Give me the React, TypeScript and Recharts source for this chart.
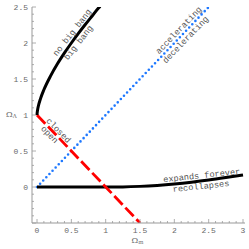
import React from 'react';
import { ComposedChart, Line, XAxis, YAxis, ReferenceDot } from 'recharts';

// Omega_m values and Omega_Lambda values of the "no big bang" boundary
const noBigBangM = [0, 0.001, 0.005, 0.01, 0.02, 0.05, 0.1, 0.2, 0.3, 0.4, 0.5, 0.6, 0.7, 0.8, 0.9, 0.92];
const noBigBangL = [1, 1.017, 1.05, 1.081, 1.125, 1.224, 1.35, 1.547, 1.714, 1.862, 2.0, 2.13, 2.253, 2.372, 2.49, 2.509];

// expands forever / recollapses boundary
const recollapseM = [0, 0.5, 1, 1.25, 1.5, 1.75, 2, 2.25, 2.5, 2.75, 3];
const recollapseL = [0, 0, 0, 0.0015, 0.0087, 0.0224, 0.0419, 0.0669, 0.0965, 0.131, 0.168];

// closed / open (flat) boundary
const flatM = [0, 1.5];
const flatL = [1, -0.5];

// accelerating / decelerating boundary
const accelM = [0, 3];
const accelL = [0, 3];

const xTickLabels = [0, 0.5, 1, 1.5, 2, 2.5, 3];
const yTickLabels = [0, 0.5, 1, 1.5, 2, 2.5];

const regionLabels = [
  { text: 'no big bang', m: 0.52, l: 2.14, angle: -52 },
  { text: 'big bang', m: 0.61, l: 2.0, angle: -52 },
  { text: 'accelerating', m: 2.07, l: 2.17, angle: -46 },
  { text: 'decelerating', m: 2.17, l: 2.04, angle: -46 },
  { text: 'closed', m: 0.306, l: 0.778, angle: 46 },
  { text: 'open', m: 0.175, l: 0.722, angle: 46 },
  { text: 'expands forever', m: 2.4, l: 0.15, angle: -6 },
  { text: 'recollapses', m: 2.39, l: 0.0, angle: -6 },
];

const zip = (ms: number[], ls: number[]) => ms.map((m, i) => ({ m, l: ls[i] }));

const minorTicks = (lo: number, hi: number) => {
  const out: number[] = [];
  for (let k = Math.round(lo * 10); k <= Math.round(hi * 10); k++) out.push(k / 10);
  return out;
};

const X_DOMAIN: [number, number] = [-0.073, 3.029];
const Y_DOMAIN: [number, number] = [-0.5, 2.5];
const FRAME = '#999999';
const TEXT = '#6a6a6a';
const MONO = '"Liberation Mono", "DejaVu Sans Mono", monospace';

const isMajor = (v: number) => Math.abs(v * 2 - Math.round(v * 2)) < 1e-6;
const fmt = (v: number) => String(v);

const makeTick = (side: 'bottom' | 'top' | 'left' | 'right', labels: number[]) => (props: any) => {
  const { x, y, payload } = props;
  const v = payload.value;
  const major = isMajor(v);
  const len = major ? 4 : 2;
  let line;
  if (side === 'bottom') line = <line x1={x} y1={y} x2={x} y2={y - len} stroke={FRAME} strokeWidth={0.8} />;
  else if (side === 'top') line = <line x1={x} y1={y} x2={x} y2={y + len} stroke={FRAME} strokeWidth={0.8} />;
  else if (side === 'left') line = <line x1={x} y1={y} x2={x + len} y2={y} stroke={FRAME} strokeWidth={0.8} />;
  else line = <line x1={x} y1={y} x2={x - len} y2={y} stroke={FRAME} strokeWidth={0.8} />;
  const showLabel = labels.some((t) => Math.abs(t - v) < 1e-6);
  let label = null;
  if (showLabel && side === 'bottom') {
    label = (
      <text x={x} y={y + 7} textAnchor="middle" dominantBaseline="central" fontSize={8} fontFamily={MONO} fill={TEXT}>
        {fmt(v)}
      </text>
    );
  } else if (showLabel && side === 'left') {
    label = (
      <text x={x - 4} y={y} textAnchor="end" dominantBaseline="central" fontSize={8} fontFamily={MONO} fill={TEXT}>
        {fmt(v)}
      </text>
    );
  }
  return (
    <g>
      {line}
      {label}
    </g>
  );
};

export default function App() {
  const xt = minorTicks(0, 3);
  const yt = minorTicks(-0.5, 2.5);
  return (
    <div style={{ position: 'absolute', left: 0, top: 0, width: 249, height: 249, background: '#fff' }}>
      <ComposedChart width={249} height={249} margin={{ top: 7, right: 4, bottom: 0, left: 0 }}>
        <XAxis
          xAxisId="b"
          dataKey="m"
          type="number"
          domain={X_DOMAIN}
          allowDataOverflow
          ticks={xt}
          interval={0}
          height={26}
          tickSize={0}
          tickMargin={0}
          axisLine={{ stroke: FRAME }}
          tickLine={false}
          tick={makeTick('bottom', xTickLabels)}
          label={{
            content: (p: any) => {
              const vb = p.viewBox || { x: 32, y: 223, width: 213, height: 26 };
              return (
                <text x={vb.x + vb.width / 2 - 1} y={vb.y + 17} textAnchor="middle" dominantBaseline="central" fontSize={8} fill={TEXT} fontFamily="DejaVu Serif, serif">
                  Ω<tspan fontSize={5.5} dy={2}>m</tspan>
                </text>
              );
            },
          }}
        />
        <XAxis
          xAxisId="t"
          orientation="top"
          dataKey="m"
          type="number"
          domain={X_DOMAIN}
          allowDataOverflow
          ticks={xt}
          interval={0}
          height={0}
          tickSize={0}
          tickMargin={0}
          axisLine={{ stroke: FRAME }}
          tickLine={false}
          tick={makeTick('top', [])}
        />
        <YAxis
          yAxisId="l"
          type="number"
          domain={Y_DOMAIN}
          allowDataOverflow
          ticks={yt}
          interval={0}
          width={32}
          tickSize={0}
          tickMargin={0}
          axisLine={{ stroke: FRAME }}
          tickLine={false}
          tick={makeTick('left', yTickLabels)}
          label={{
            content: (p: any) => {
              const vb = p.viewBox || { x: 0, y: 7, width: 32, height: 216 };
              return (
                <text x={vb.x + 6} y={vb.y + vb.height / 2 - 1} textAnchor="start" dominantBaseline="central" fontSize={8} fill={TEXT} fontFamily="DejaVu Serif, serif">
                  Ω<tspan fontSize={5.5} dy={2}>Λ</tspan>
                </text>
              );
            },
          }}
        />
        <YAxis
          yAxisId="r"
          orientation="right"
          type="number"
          domain={Y_DOMAIN}
          allowDataOverflow
          ticks={yt}
          interval={0}
          width={0}
          tickSize={0}
          tickMargin={0}
          axisLine={{ stroke: FRAME }}
          tickLine={false}
          tick={makeTick('right', [])}
        />
        <Line
          xAxisId="b"
          yAxisId="l"
          data={zip(accelM, accelL)}
          dataKey="l"
          type="linear"
          dot={false}
          stroke="#1e78ff"
          strokeWidth={2.6}
          strokeLinecap="round"
          strokeDasharray="0 4.5"
          isAnimationActive={false}
        />
        <Line
          xAxisId="b"
          yAxisId="l"
          data={zip(recollapseM, recollapseL)}
          dataKey="l"
          type="monotone"
          dot={false}
          stroke="#000"
          strokeWidth={3}
          isAnimationActive={false}
        />
        <Line
          xAxisId="b"
          yAxisId="l"
          data={zip(flatM, flatL)}
          dataKey="l"
          type="linear"
          dot={false}
          stroke="#ff0000"
          strokeWidth={2.8}
          strokeDasharray="12 4"
          isAnimationActive={false}
        />
        <Line
          xAxisId="b"
          yAxisId="l"
          data={zip(noBigBangM, noBigBangL)}
          dataKey="l"
          type="monotone"
          dot={false}
          stroke="#000"
          strokeWidth={3}
          isAnimationActive={false}
        />
        {regionLabels.map((lab) => (
          <ReferenceDot
            key={lab.text}
            xAxisId="b"
            yAxisId="l"
            x={lab.m}
            y={lab.l}
            r={1}
            shape={(p: any) => (
              <text
                x={p.cx}
                y={p.cy}
                transform={`rotate(${lab.angle} ${p.cx} ${p.cy})`}
                textAnchor="middle"
                dominantBaseline="central"
                fontSize={8.6}
                fontFamily={MONO}
                fill="#555"
              >
                {lab.text}
              </text>
            )}
          />
        ))}
      </ComposedChart>
    </div>
  );
}
